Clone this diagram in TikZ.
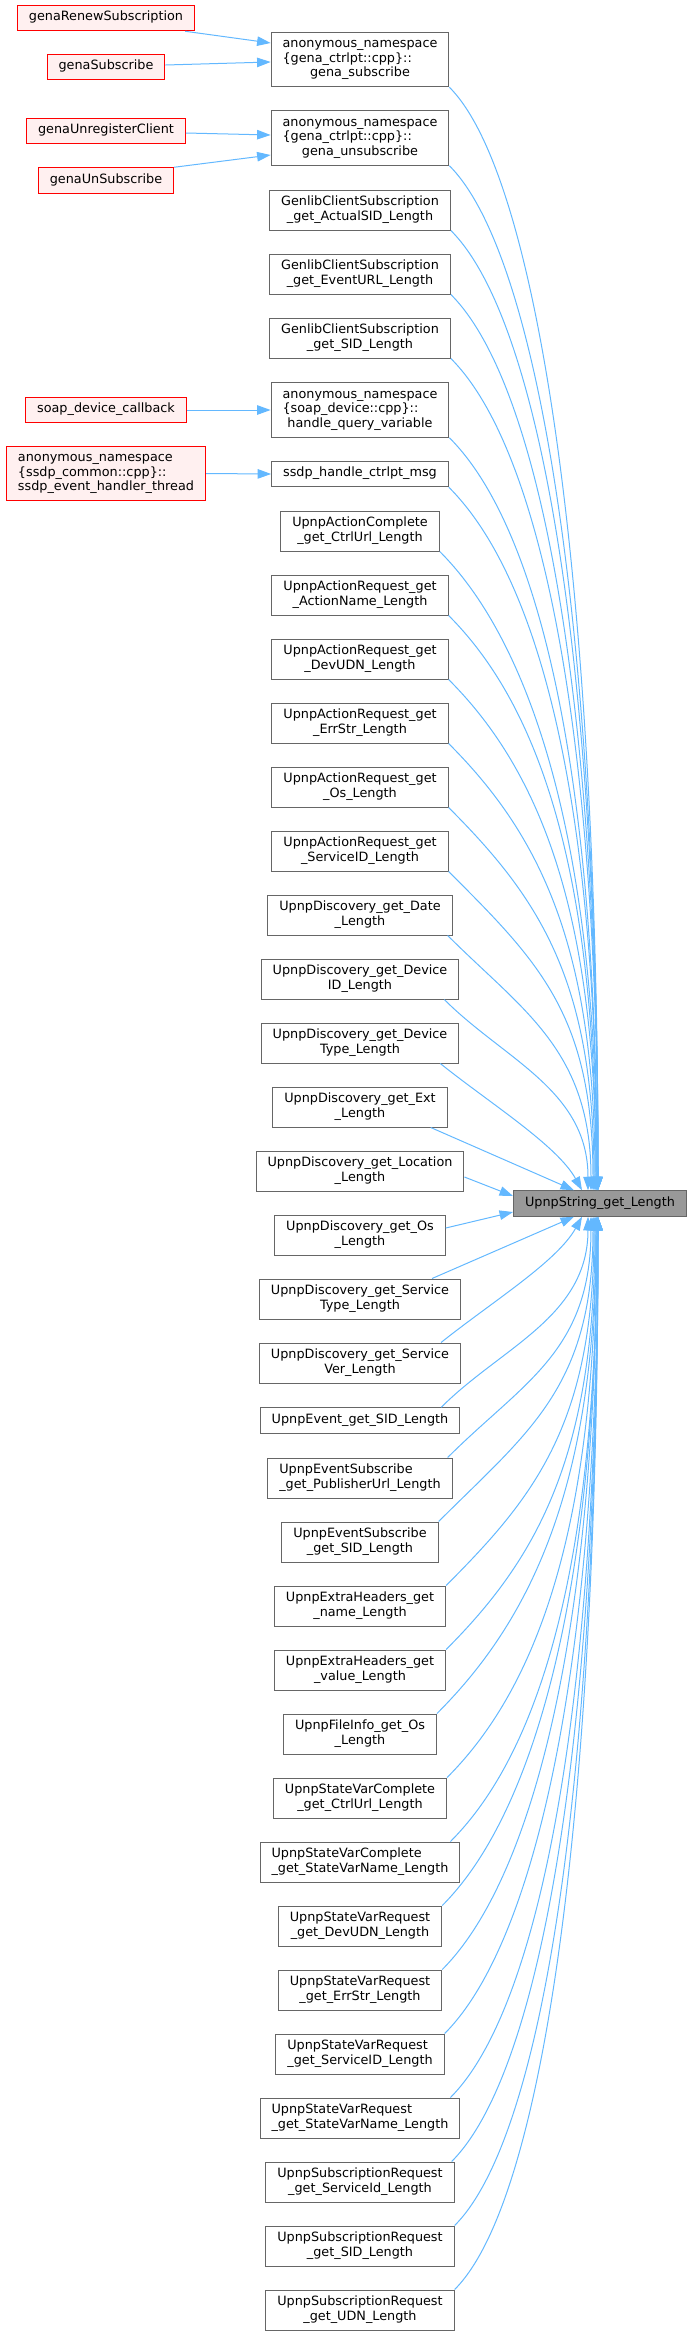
\documentclass[tikz,border=0pt]{standalone}
\usepackage{fontspec}
\setmainfont{DejaVu Sans}
\usepackage{tikz}
\usetikzlibrary{arrows.meta,calc}
\definecolor{edgeblue}{HTML}{63B8FF}
\definecolor{boxgray}{HTML}{666666}
\definecolor{rootgray}{HTML}{999999}
\definecolor{callerbg}{HTML}{FFF0F0}
\newcommand{\graphfont}{\fontsize{12.8}{14.5}\selectfont}
\newcommand{\cone}[1]{\begin{tabular}{@{}c@{}}#1\end{tabular}}
\newcommand{\ctwo}[2]{\begin{tabular}{@{}c@{}}#1\\#2\end{tabular}}
\newcommand{\ltwo}[2]{\begin{tabular}{@{}l@{}}#1\\#2\end{tabular}}
\newcommand{\nsp}[3]{\begin{tabular}{@{}l@{}}#1\\#2\\\multicolumn{1}{@{}c@{}}{#3}\end{tabular}}

\begin{document}
\begin{tikzpicture}[x=1pt,y=-1pt,
  fn/.style={draw=boxgray,fill=white,line width=1pt,inner xsep=11.5pt,inner ysep=5.5pt,font=\graphfont},
  caller/.style={fn,draw=red,fill=callerbg},
  rootfn/.style={fn,fill=rootgray},
  edge/.style={draw=edgeblue,line width=1pt,-{Triangle[length=13.5pt,width=9.5pt]}}]
\useasboundingbox (0,0) rectangle (692,2335);

% callers of the callers
\node[caller] (renew) at (106,18) {\cone{genaRenewSubscription}};
\node[caller] (gsubscr) at (106,67) {\cone{genaSubscribe}};
\node[caller] (unreg) at (106,131) {\cone{genaUnregisterClient}};
\node[caller] (unsub) at (106,180.5) {\cone{genaUnSubscribe}};
\node[caller] (soapcb) at (106,410) {\cone{soap\_device\_callback}};
\node[caller] (ssdpthr) at (106,473.5) {\nsp{anonymous\_namespace}{\{ssdp\_common::cpp\}::}{ssdp\_event\_handler\_thread}};

% direct callers
\node[fn] (gsub) at (360,59.5) {\nsp{anonymous\_namespace}{\{gena\_ctrlpt::cpp\}::}{gena\_subscribe}};
\node[fn] (gunsub) at (360,138) {\nsp{anonymous\_namespace}{\{gena\_ctrlpt::cpp\}::}{gena\_unsubscribe}};
\node[fn] (actsid) at (360,210) {\ctwo{GenlibClientSubscription}{\_get\_ActualSID\_Length}};
\node[fn] (evurl) at (360,274) {\ctwo{GenlibClientSubscription}{\_get\_EventURL\_Length}};
\node[fn] (sid) at (360,338) {\ctwo{GenlibClientSubscription}{\_get\_SID\_Length}};
\node[fn] (hqv) at (360,410) {\nsp{anonymous\_namespace}{\{soap\_device::cpp\}::}{handle\_query\_variable}};
\node[fn] (ssdpmsg) at (360,474) {\cone{ssdp\_handle\_ctrlpt\_msg}};
\node[fn] (accurl) at (360,531) {\ctwo{UpnpActionComplete}{\_get\_CtrlUrl\_Length}};
\node[fn] (aractname) at (360,595) {\ctwo{UpnpActionRequest\_get}{\_ActionName\_Length}};
\node[fn] (ardevudn) at (360,659) {\ctwo{UpnpActionRequest\_get}{\_DevUDN\_Length}};
\node[fn] (arerrstr) at (360,723) {\ctwo{UpnpActionRequest\_get}{\_ErrStr\_Length}};
\node[fn] (aros) at (360,787) {\ctwo{UpnpActionRequest\_get}{\_Os\_Length}};
\node[fn] (arsvcid) at (360,851) {\ctwo{UpnpActionRequest\_get}{\_ServiceID\_Length}};
\node[fn] (dsdate) at (360,915) {\ctwo{UpnpDiscovery\_get\_Date}{\_Length}};
\node[fn] (dsdevid) at (360,979) {\ctwo{UpnpDiscovery\_get\_Device}{ID\_Length}};
\node[fn] (dsdevtype) at (360,1043) {\ctwo{UpnpDiscovery\_get\_Device}{Type\_Length}};
\node[fn] (dsext) at (360,1107) {\ctwo{UpnpDiscovery\_get\_Ext}{\_Length}};
\node[fn] (dsloc) at (360,1171) {\ctwo{UpnpDiscovery\_get\_Location}{\_Length}};
\node[fn] (dsos) at (360,1235) {\ctwo{UpnpDiscovery\_get\_Os}{\_Length}};
\node[fn] (dssvctype) at (360,1299) {\ctwo{UpnpDiscovery\_get\_Service}{Type\_Length}};
\node[fn] (dssvcver) at (360,1363) {\ctwo{UpnpDiscovery\_get\_Service}{Ver\_Length}};
\node[fn] (evsid) at (360,1420.5) {\cone{UpnpEvent\_get\_SID\_Length}};
\node[fn] (espub) at (360,1478) {\ltwo{UpnpEventSubscribe}{\_get\_PublisherUrl\_Length}};
\node[fn] (essid) at (360,1542) {\ctwo{UpnpEventSubscribe}{\_get\_SID\_Length}};
\node[fn] (xhname) at (360,1606) {\ctwo{UpnpExtraHeaders\_get}{\_name\_Length}};
\node[fn] (xhvalue) at (360,1670) {\ctwo{UpnpExtraHeaders\_get}{\_value\_Length}};
\node[fn] (fios) at (360,1734) {\ctwo{UpnpFileInfo\_get\_Os}{\_Length}};
\node[fn] (svccurl) at (360,1798) {\ctwo{UpnpStateVarComplete}{\_get\_CtrlUrl\_Length}};
\node[fn] (svcname) at (360,1862) {\ltwo{UpnpStateVarComplete}{\_get\_StateVarName\_Length}};
\node[fn] (svrdevudn) at (360,1926) {\ctwo{UpnpStateVarRequest}{\_get\_DevUDN\_Length}};
\node[fn] (svrerr) at (360,1990) {\ctwo{UpnpStateVarRequest}{\_get\_ErrStr\_Length}};
\node[fn] (svrsvcid) at (360,2054) {\ltwo{UpnpStateVarRequest}{\_get\_ServiceID\_Length}};
\node[fn] (svrname) at (360,2118) {\ltwo{UpnpStateVarRequest}{\_get\_StateVarName\_Length}};
\node[fn] (srsvcid) at (360,2182) {\ctwo{UpnpSubscriptionRequest}{\_get\_ServiceId\_Length}};
\node[fn] (srsid) at (360,2246) {\ctwo{UpnpSubscriptionRequest}{\_get\_SID\_Length}};
\node[fn] (srudn) at (360,2310) {\ctwo{UpnpSubscriptionRequest}{\_get\_UDN\_Length}};

\node[rootfn] (strlen) at (600,1203.5) {\cone{UpnpString\_get\_Length}};

\draw[edge] ($(renew.south east)+(-10,0)$) -- ($(gsub.west)+(0,-16.5)$);
\draw[edge] ($(gsubscr.east)+(0,-2)$) -- ($(gsub.west)+(0,2.5)$);
\draw[edge] ($(unreg.east)+(0,2)$) -- ($(gunsub.west)+(0,-3)$);
\draw[edge] (unsub.north east) -- ($(gunsub.west)+(0,17)$);
\draw[edge] (soapcb.east) -- (hqv.west);
\draw[edge] (ssdpthr.east) -- (ssdpmsg.west);

% into the top of UpnpString_get_Length
\foreach \n/\s/\dx/\k/\m in {gsub/0/-2/90/600, gunsub/0/-2/90/560, actsid/0/-2/90/530,
  evurl/0/-2/90/490, sid/0/-2/90/460, hqv/0/-3/90/415, ssdpmsg/0/-3/90/390,
  accurl/0/-3/90/350, aractname/0/-4/90/320, ardevudn/0/-4/90/280,
  arerrstr/0/-5/90/245, aros/0/-6/90/210, arsvcid/0/-7/90/175,
  dsdate/5/-9/75/140, dsdevid/15/-12/60/100}
\draw[edge] ($(\n.south east)+(-\s,0)$) .. controls +(\k,\k) and +(0,-\m) .. ($(strlen.north)+(\dx,0)$);
\draw[edge] ($(dsdevtype.south east)+(-19,0)$) .. controls +(50,40) and +(-25,-45) .. ($(strlen.north)+(-18,0)$);
\draw[edge] ($(dsext.south east)+(-17,0)$) -- ($(strlen.north)+(-26,0)$);
\draw[edge] ($(dsloc.east)+(0,6)$) -- ($(strlen.west)+(0,-7.5)$);
\draw[edge] ($(dsos.east)+(0,-7)$) -- ($(strlen.west)+(0,8.5)$);
\draw[edge] ($(dssvctype.north east)+(-29,0)$) -- ($(strlen.south)+(-26,0)$);
\draw[edge] ($(dssvcver.north east)+(-20,0)$) .. controls +(50,-40) and +(-25,45) .. ($(strlen.south)+(-18,0)$);

% into the bottom
\foreach \n/\s/\dx/\k/\m in {evsid/19/-12/60/100, espub/5/-9/75/135, essid/0/-7/90/170,
  xhname/0/-6/90/205, xhvalue/0/-5/90/240, fios/0/-4/90/275, svccurl/0/-4/90/310,
  svcname/10/-3/90/345, svrdevudn/0/-3/90/380, svrerr/0/-3/90/415,
  svrsvcid/0/-2/90/450, svrname/10/-2/90/485, srsvcid/3/-2/90/520,
  srsid/0/-2/90/555, srudn/0/-2/90/590}
\draw[edge] ($(\n.north east)+(-\s,0)$) .. controls +(\k,-\k) and +(0,\m) .. ($(strlen.south)+(\dx,0)$);
\end{tikzpicture}
\end{document}
